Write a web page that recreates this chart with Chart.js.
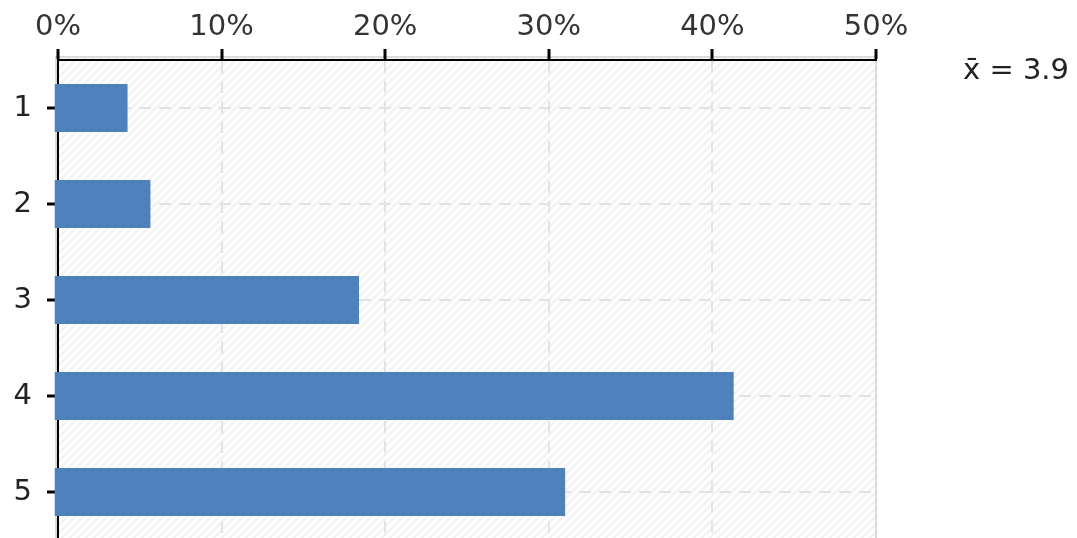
<!DOCTYPE html>
<html>
<head>
<meta charset="utf-8">
<script src="https://cdn.jsdelivr.net/npm/chart.js@4"></script>
<style>
  html, body { margin: 0; padding: 0; background: #fff; overflow: hidden; }
  canvas { display: block; }
</style>
</head>
<body>
<canvas id="c" width="1077" height="540"></canvas>
<script>
const categories = ['1', '2', '3', '4', '5'];
const percentages = [4.25, 5.65, 18.4, 41.3, 31.0];
const xTickValues = [0, 10, 20, 30, 40, 50];
const meanLabel = 'x\u0304 = 3.9';

const FONT = '"DejaVu Sans", Verdana, sans-serif';

function makeHatch() {
  const p = document.createElement('canvas');
  p.width = 8; p.height = 8;
  const g = p.getContext('2d');
  g.fillStyle = '#ffffff';
  g.fillRect(0, 0, 8, 8);
  g.strokeStyle = '#f2f2f2';
  g.lineWidth = 2.5;
  g.beginPath();
  g.moveTo(-2, 10); g.lineTo(10, -2);
  g.moveTo(-2, 2); g.lineTo(2, -2);
  g.moveTo(6, 10); g.lineTo(10, 6);
  g.stroke();
  return p;
}

const backgroundPlugin = {
  id: 'bgFrame',
  beforeDraw(chart) {
    const ctx = chart.ctx;
    const a = chart.chartArea;
    ctx.save();
    ctx.fillStyle = ctx.createPattern(makeHatch(), 'repeat');
    ctx.fillRect(a.left - 1, a.top - 2, a.right - a.left, a.bottom - a.top + 2);
    ctx.fillStyle = '#dcdcdc';
    ctx.fillRect(a.left - 3, a.top - 4, 2, a.bottom - a.top + 4);
    ctx.fillRect(a.left - 3, a.top - 4, a.right - a.left + 3, 2);
    ctx.fillRect(a.right - 1, a.top - 4, 2, a.bottom - a.top + 4);
    ctx.restore();
  },
  afterDraw(chart) {
    const ctx = chart.ctx;
    const a = chart.chartArea;
    ctx.save();
    ctx.font = '29px ' + FONT;
    ctx.fillStyle = '#222';
    ctx.textAlign = 'left';
    ctx.textBaseline = 'alphabetic';
    ctx.fillText(meanLabel, a.right + 87, a.top + 19);
    ctx.restore();
  }
};

new Chart(document.getElementById('c'), {
  type: 'bar',
  data: {
    labels: categories,
    datasets: [{
      data: percentages,
      backgroundColor: '#4f81bd',
      borderWidth: 0,
      base: -0.2,
      barPercentage: 0.5,
      categoryPercentage: 1,
      clip: false
    }]
  },
  options: {
    indexAxis: 'y',
    responsive: false,
    animation: false,
    devicePixelRatio: 1,
    layout: { padding: { left: 0, right: 201, top: 0, bottom: 0 } },
    plugins: {
      legend: { display: false },
      tooltip: { enabled: false },
      title: { display: false }
    },
    scales: {
      x: {
        position: 'top',
        min: xTickValues[0],
        max: xTickValues[xTickValues.length - 1],
        afterBuildTicks(scale) {
          scale.ticks = xTickValues.map(v => ({ value: v }));
        },
        afterFit(scale) {
          scale.height = 60;
          scale.paddingTop = 0; scale.paddingBottom = 0;
          scale.paddingLeft = 0; scale.paddingRight = 0;
        },
        ticks: {
          callback: v => v + '%',
          font: { family: FONT, size: 29 },
          color: '#333',
          padding: 4,
          maxRotation: 0,
          autoSkip: false
        },
        grid: {
          color: c => (c.tick && (c.tick.value === 0 || c.tick.value === 50)) ? 'rgba(0,0,0,0)' : '#e3e3e3',
          lineWidth: 2,
          tickColor: '#000',
          tickLength: 11,
          tickWidth: 3
        },
        border: { display: true, color: '#000', width: 2, dash: [12, 8] }
      },
      y: {
        position: 'left',
        afterFit(scale) {
          scale.width = 58;
          scale.paddingTop = 0; scale.paddingBottom = 0;
          scale.paddingLeft = 0; scale.paddingRight = 0;
        },
        ticks: {
          font: { family: FONT, size: 29 },
          color: '#222',
          padding: 15
        },
        grid: {
          offset: false,
          color: '#e3e3e3',
          lineWidth: 2,
          tickColor: '#000',
          tickLength: 11,
          tickWidth: 3
        },
        border: { display: true, color: '#000', width: 2, dash: [12, 8] }
      }
    }
  },
  plugins: [backgroundPlugin]
});
</script>
</body>
</html>
